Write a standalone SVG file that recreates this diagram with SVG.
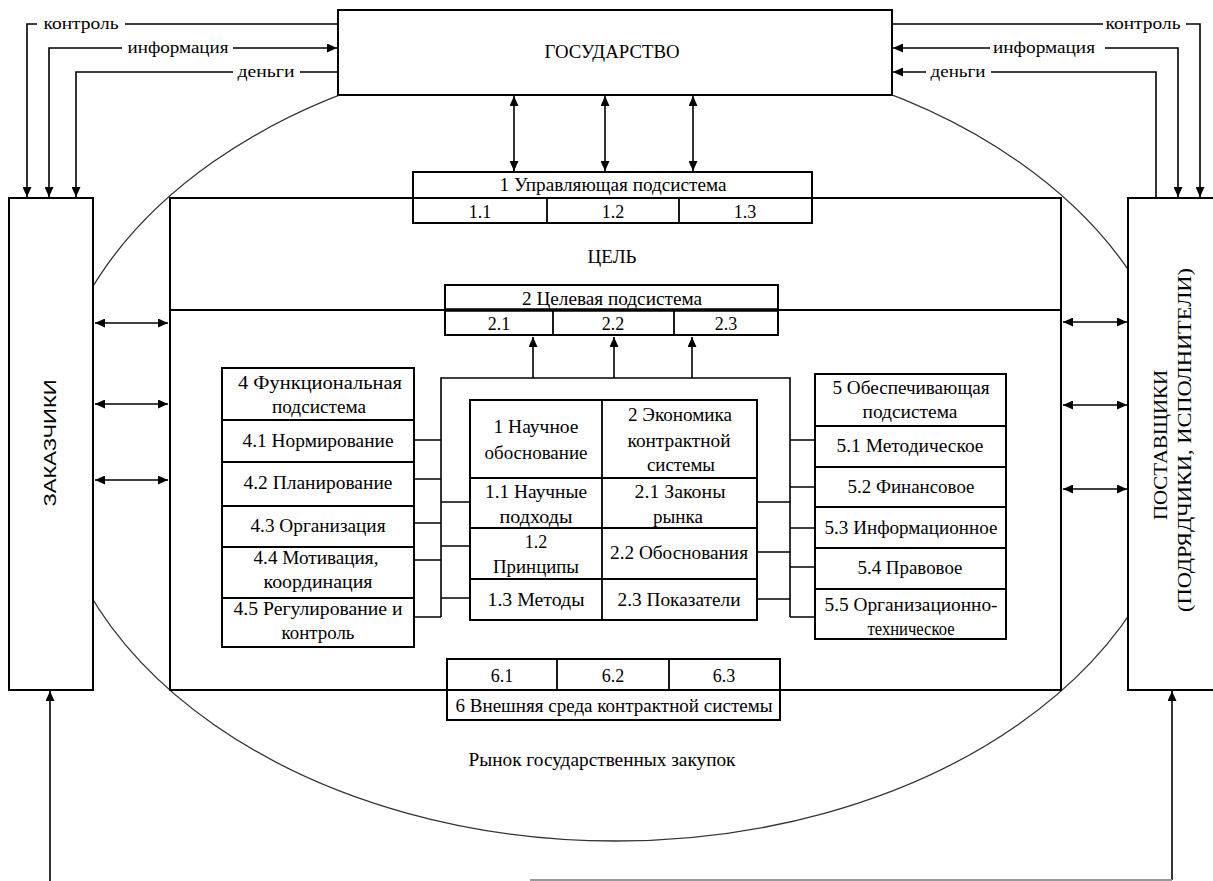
<svg xmlns="http://www.w3.org/2000/svg" width="1213" height="881" viewBox="0 0 1213 881">
<style>
.box{fill:#fff;stroke:#000;stroke-width:2}
.ln{fill:none;stroke:#000;stroke-width:1.8}
.thin{fill:none;stroke:#000;stroke-width:1.6}
.t{font-family:"Liberation Serif","Times New Roman",serif;font-size:18px;text-anchor:middle;fill:#000}
.s{font-family:"Liberation Serif","Times New Roman",serif;font-size:17px;text-anchor:middle;fill:#000}
.v{font-family:"Liberation Sans",Arial,sans-serif;font-size:17px;text-anchor:middle;fill:#000}
</style>
<defs>
<marker id="ah" markerUnits="userSpaceOnUse" markerWidth="11" markerHeight="9" refX="10" refY="4.5" orient="auto-start-reverse">
<path d="M0,0 L10,4.5 L0,9 z" fill="#000"/>
</marker>
</defs>
<rect width="1213" height="881" fill="#fff"/>

<g id="market">
<ellipse cx="616" cy="443" rx="569" ry="398" fill="none" stroke="#333" stroke-width="1.3"/>
<text class="t" x="602" y="766" textLength="267" lengthAdjust="spacingAndGlyphs">Рынок государственных закупок</text>
</g>

<g id="goal-frame">
<rect class="box" x="170" y="198" width="891" height="492"/>
<line class="ln" x1="170" y1="310" x2="1061" y2="310"/>
<text class="t" x="612" y="263" textLength="49" lengthAdjust="spacingAndGlyphs">ЦЕЛЬ</text>
</g>

<g id="gosudarstvo">
<rect class="box" x="338" y="10" width="554" height="85"/>
<text class="t" x="612" y="58" textLength="135" lengthAdjust="spacingAndGlyphs">ГОСУДАРСТВО</text>
</g>

<g id="zakazchiki">
<rect class="box" x="9" y="198" width="84" height="492"/>
<text class="v" transform="translate(56,443) rotate(-90)" x="0" y="0" textLength="127" lengthAdjust="spacingAndGlyphs">ЗАКАЗЧИКИ</text>
</g>

<g id="postavshchiki">
<rect class="box" x="1128" y="198" width="95" height="492"/>
<text class="t" transform="translate(1167,445) rotate(-90)" x="0" y="0" textLength="150" lengthAdjust="spacingAndGlyphs">ПОСТАВЩИКИ</text>
<text class="t" transform="translate(1191,440) rotate(-90)" x="0" y="0" textLength="344" lengthAdjust="spacingAndGlyphs">(ПОДРЯДЧИКИ, ИСПОЛНИТЕЛИ)</text>
</g>

<g id="connectors">
<path class="thin" d="M338,24 H125 M37,24 H27 V197" marker-end="url(#ah)"/>
<path class="thin" d="M122,48 H49 V197" marker-end="url(#ah)"/>
<path class="thin" d="M233,48 H337" marker-end="url(#ah)"/>
<path class="thin" d="M338,72 H300 M233,72 H76 V197" marker-end="url(#ah)"/>
<path class="thin" d="M892,24 H1103 M1186,24 H1200 V197" marker-end="url(#ah)"/>
<path class="thin" d="M990,48 H893" marker-end="url(#ah)"/>
<path class="thin" d="M1105,48 H1178 V197" marker-end="url(#ah)"/>
<path class="thin" d="M1156,198 V72 H991" />
<path class="thin" d="M926,72 H893" marker-end="url(#ah)"/>
<path class="thin" d="M514,96 V171" marker-start="url(#ah)" marker-end="url(#ah)"/>
<path class="thin" d="M605,96 V171" marker-start="url(#ah)" marker-end="url(#ah)"/>
<path class="thin" d="M693,96 V171" marker-start="url(#ah)" marker-end="url(#ah)"/>
<path class="thin" d="M95,323 H168" marker-start="url(#ah)" marker-end="url(#ah)"/>
<path class="thin" d="M95,404 H168" marker-start="url(#ah)" marker-end="url(#ah)"/>
<path class="thin" d="M95,480 H168" marker-start="url(#ah)" marker-end="url(#ah)"/>
<path class="thin" d="M1063,322 H1127" marker-start="url(#ah)" marker-end="url(#ah)"/>
<path class="thin" d="M1063,405 H1127" marker-start="url(#ah)" marker-end="url(#ah)"/>
<path class="thin" d="M1063,489 H1127" marker-start="url(#ah)" marker-end="url(#ah)"/>
<path class="thin" d="M441,617 V378 H790 V617"/>
<path class="thin" d="M414,440 H441 M414,479 H441 M414,523 H441 M414,560 H441 M414,617 H441"/>
<path class="thin" d="M441,502 H470 M441,546 H470 M441,598 H470"/>
<path class="thin" d="M757,502 H790 M757,552 H790 M757,599 H790"/>
<path class="thin" d="M790,440 H815 M790,487 H815 M790,528 H815 M790,567 H815 M790,617 H815"/>
<path class="thin" d="M533,378 V337" marker-end="url(#ah)"/>
<path class="thin" d="M614,378 V337" marker-end="url(#ah)"/>
<path class="thin" d="M692,378 V337" marker-end="url(#ah)"/>
<path class="thin" d="M50,881 V691" marker-end="url(#ah)"/>
<path class="thin" d="M1172,880 V691" marker-end="url(#ah)"/>
<line x1="530" y1="880" x2="1172" y2="880" stroke="#999" stroke-width="2"/>
</g>

<g id="sub1">
<rect class="box" x="413" y="172" width="399" height="51"/>
<line class="ln" x1="413" y1="198" x2="812" y2="198"/>
<line class="ln" x1="547" y1="198" x2="547" y2="223"/>
<line class="ln" x1="679" y1="198" x2="679" y2="223"/>
<text class="t" x="613" y="191" textLength="227" lengthAdjust="spacingAndGlyphs">1 Управляющая подсистема</text>
<text class="t" x="480" y="218">1.1</text>
<text class="t" x="613" y="218">1.2</text>
<text class="t" x="745" y="218">1.3</text>
</g>

<g id="sub2">
<rect class="box" x="445" y="285" width="333" height="50"/>
<line x1="445" y1="310" x2="778" y2="310" stroke="#000" stroke-width="3.5"/>
<line class="ln" x1="553" y1="310" x2="553" y2="335"/>
<line class="ln" x1="674" y1="310" x2="674" y2="335"/>
<text class="t" x="612" y="305" textLength="180" lengthAdjust="spacingAndGlyphs">2 Целевая подсистема</text>
<text class="t" x="499" y="330">2.1</text>
<text class="t" x="613" y="330">2.2</text>
<text class="t" x="726" y="330">2.3</text>
</g>

<g id="sub4">
<rect class="box" x="222" y="368" width="192" height="279"/>
<path class="ln" d="M222,420 H414 M222,462 H414 M222,506 H414 M222,547 H414 M222,598 H414"/>
<text class="t" x="320" y="389" textLength="164" lengthAdjust="spacingAndGlyphs">4 Функциональная</text>
<text class="t" x="319" y="413" textLength="94" lengthAdjust="spacingAndGlyphs">подсистема</text>
<text class="t" x="318" y="447" textLength="151" lengthAdjust="spacingAndGlyphs">4.1 Нормирование</text>
<text class="t" x="318" y="489" textLength="149" lengthAdjust="spacingAndGlyphs">4.2 Планирование</text>
<text class="t" x="318" y="532" textLength="135" lengthAdjust="spacingAndGlyphs">4.3 Организация</text>
<text class="t" x="316" y="564" textLength="125" lengthAdjust="spacingAndGlyphs">4.4 Мотивация,</text>
<text class="t" x="318" y="588" textLength="109" lengthAdjust="spacingAndGlyphs">координация</text>
<text class="t" x="318" y="615" textLength="169" lengthAdjust="spacingAndGlyphs">4.5 Регулирование и</text>
<text class="t" x="318" y="639" textLength="73" lengthAdjust="spacingAndGlyphs">контроль</text>
</g>

<g id="center">
<rect class="box" x="470" y="400" width="287" height="220"/>
<path class="ln" d="M602,400 V620 M470,478 H757 M470,528 H757 M470,579 H757"/>
<text class="t" x="536" y="433" textLength="85" lengthAdjust="spacingAndGlyphs">1 Научное</text>
<text class="t" x="536" y="459" textLength="103" lengthAdjust="spacingAndGlyphs">обоснование</text>
<text class="t" x="680" y="421" textLength="104" lengthAdjust="spacingAndGlyphs">2 Экономика</text>
<text class="t" x="679" y="447" textLength="103" lengthAdjust="spacingAndGlyphs">контрактной</text>
<text class="t" x="681" y="471" textLength="68" lengthAdjust="spacingAndGlyphs">системы</text>
<text class="t" x="536" y="498" textLength="102" lengthAdjust="spacingAndGlyphs">1.1 Научные</text>
<text class="t" x="536" y="523" textLength="73" lengthAdjust="spacingAndGlyphs">подходы</text>
<text class="t" x="680" y="498" textLength="91" lengthAdjust="spacingAndGlyphs">2.1 Законы</text>
<text class="t" x="678" y="523" textLength="50" lengthAdjust="spacingAndGlyphs">рынка</text>
<text class="t" x="536" y="548">1.2</text>
<text class="t" x="536" y="573" textLength="86" lengthAdjust="spacingAndGlyphs">Принципы</text>
<text class="t" x="679" y="559" textLength="138" lengthAdjust="spacingAndGlyphs">2.2 Обоснования</text>
<text class="t" x="536" y="606" textLength="97" lengthAdjust="spacingAndGlyphs">1.3 Методы</text>
<text class="t" x="679" y="606" textLength="123" lengthAdjust="spacingAndGlyphs">2.3 Показатели</text>
</g>

<g id="sub5">
<rect class="box" x="815" y="374" width="191" height="265"/>
<path class="ln" d="M815,426 H1006 M815,467 H1006 M815,507 H1006 M815,548 H1006 M815,589 H1006"/>
<text class="t" x="911" y="394" textLength="157" lengthAdjust="spacingAndGlyphs">5 Обеспечивающая</text>
<text class="t" x="910" y="418" textLength="95" lengthAdjust="spacingAndGlyphs">подсистема</text>
<text class="t" x="910" y="452" textLength="147" lengthAdjust="spacingAndGlyphs">5.1 Методическое</text>
<text class="t" x="911" y="493" textLength="127" lengthAdjust="spacingAndGlyphs">5.2 Финансовое</text>
<text class="t" x="911" y="534" textLength="173" lengthAdjust="spacingAndGlyphs">5.3 Информационное</text>
<text class="t" x="910" y="574" textLength="105" lengthAdjust="spacingAndGlyphs">5.4 Правовое</text>
<text class="t" x="911" y="611" textLength="173" lengthAdjust="spacingAndGlyphs">5.5 Организационно-</text>
<text class="t" x="911" y="635" textLength="87" lengthAdjust="spacingAndGlyphs">техническое</text>
</g>

<g id="sub6">
<rect class="box" x="447" y="659" width="333" height="61"/>
<line class="ln" x1="447" y1="690" x2="780" y2="690"/>
<line class="ln" x1="557" y1="659" x2="557" y2="690"/>
<line class="ln" x1="669" y1="659" x2="669" y2="690"/>
<text class="t" x="502" y="682">6.1</text>
<text class="t" x="613" y="682">6.2</text>
<text class="t" x="724" y="682">6.3</text>
<text class="t" x="614" y="712" textLength="317" lengthAdjust="spacingAndGlyphs">6 Внешняя среда контрактной системы</text>
</g>

<g id="flow-labels">
<text class="s" x="81" y="29" textLength="75" lengthAdjust="spacingAndGlyphs">контроль</text>
<text class="s" x="178" y="53" textLength="101" lengthAdjust="spacingAndGlyphs">информация</text>
<text class="s" x="266" y="77" textLength="57" lengthAdjust="spacingAndGlyphs">деньги</text>
<text class="s" x="1143" y="29" textLength="75" lengthAdjust="spacingAndGlyphs">контроль</text>
<text class="s" x="1044" y="53" textLength="102" lengthAdjust="spacingAndGlyphs">информация</text>
<text class="s" x="958" y="77" textLength="55" lengthAdjust="spacingAndGlyphs">деньги</text>
</g>
</svg>
